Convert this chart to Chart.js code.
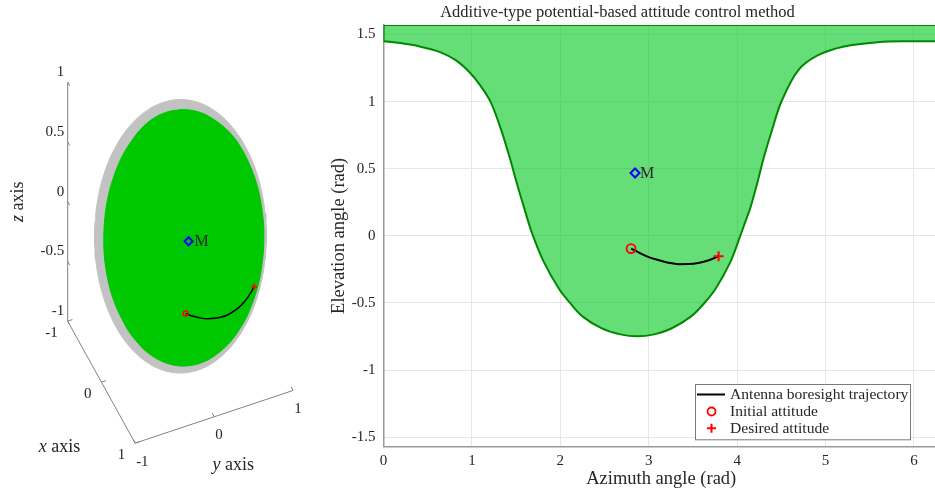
<!DOCTYPE html>
<html><head><meta charset="utf-8">
<script src="https://cdn.jsdelivr.net/npm/chart.js@4.4.1/dist/chart.umd.min.js"></script>
<style>
html,body{margin:0;padding:0;background:#fff;overflow:hidden;}
body{width:935px;height:495px;position:relative;}
#c1{position:absolute;left:0;top:0;}
#c2{position:absolute;left:330px;top:0;}
</style></head><body>
<canvas id="c1" width="330" height="495"></canvas>
<canvas id="c2" width="616" height="495"></canvas>
<script>
// ---------------- data ----------------
const chartTitle = 'Additive-type potential-based attitude control method';
const xAxisTitle = 'Azimuth angle (rad)';
const yAxisTitle = 'Elevation angle (rad)';
const xTickValues = [0, 1, 2, 3, 4, 5, 6];
const yTickValues = [-1.5, -1, -0.5, 0, 0.5, 1, 1.5];

// boundary of the admissible region (elevation vs azimuth)
const boundaryAz = [0, 0.19, 0.41, 0.64, 0.82, 0.97, 1.09, 1.21, 1.32, 1.42, 1.50, 1.59, 1.68, 1.81, 1.99, 2.11, 2.25, 2.47, 2.68, 2.87, 3.06, 3.25, 3.48, 3.63, 3.76, 3.92, 4.03, 4.09, 4.15, 4.23, 4.30, 4.40, 4.50, 4.69, 4.91, 5.21, 5.59, 5.96, 6.2832];
const boundaryEl = [1.450, 1.436, 1.411, 1.369, 1.307, 1.221, 1.125, 1.000, 0.810, 0.600, 0.410, 0.210, 0.020, -0.190, -0.400, -0.500, -0.600, -0.690, -0.734, -0.748, -0.734, -0.692, -0.600, -0.500, -0.390, -0.200, -0.010, 0.100, 0.210, 0.400, 0.580, 0.800, 0.999, 1.233, 1.344, 1.411, 1.443, 1.450, 1.450];

// antenna boresight trajectory
const trajectoryAz = [2.80, 2.89, 3.00, 3.11, 3.22, 3.34, 3.45, 3.56, 3.68, 3.79];
const trajectoryEl = [-0.095, -0.125, -0.158, -0.181, -0.200, -0.211, -0.210, -0.202, -0.182, -0.152];

const initialAttitude = [2.80, -0.095];
const desiredAttitude = [3.79, -0.152];
const pointM = [2.845, 0.468];
const labelM = 'M';
const legendLabels = ['Antenna boresight trajectory', 'Initial attitude', 'Desired attitude'];

// 3-D panel ticks
const xy3dTicks = [-1, 0, 1];
const z3dTicks = [-1, -0.5, 0, 0.5, 1];
const axis3dNames = ['x', 'y', 'z'];

// ---------------- style ----------------
const FONT = '"Liberation Serif", "DejaVu Serif", serif';
const TEXT = '#262626';
Chart.defaults.font.family = FONT;
Chart.defaults.color = TEXT;
const HALF_PI = Math.PI / 2, TWO_PI = Math.PI * 2;
const FILL = 'rgba(0,200,30,0.6)', EDGE = '#008800';
const pts = (xs, ys) => xs.map((x, i) => ({x: x, y: ys[i]}));

// ---------------- right panel ----------------
const rightDecor = {
  id: 'rightDecor',
  afterDatasetsDraw(chart) {
    const ctx = chart.ctx, xs = chart.scales.x, ys = chart.scales.y;
    ctx.save();
    ctx.fillStyle = TEXT;
    ctx.font = '16px ' + FONT;
    ctx.textAlign = 'left'; ctx.textBaseline = 'middle';
    ctx.fillText(labelM, xs.getPixelForValue(pointM[0]) + 5, ys.getPixelForValue(pointM[1]) + 0.5);
    ctx.restore();
  },
  afterDraw(chart) {
    const ctx = chart.ctx, ca = chart.chartArea;
    ctx.save();
    ctx.fillStyle = TEXT;
    ctx.font = '16.5px ' + FONT;
    ctx.textAlign = 'center'; ctx.textBaseline = 'alphabetic';
    ctx.fillText(chartTitle, ca.left + 234, 17);
    const bx = ca.left + 311.5, by = ca.bottom - 62.7, bw = 215, bh = 55.3;
    ctx.fillStyle = '#fff';
    ctx.fillRect(bx, by, bw, bh);
    ctx.strokeStyle = '#7a7a7a'; ctx.lineWidth = 1;
    ctx.strokeRect(bx + 0.5, by + 0.5, bw, bh);
    const rows = [by + 10.5, by + 27.5, by + 44.3];
    const mx = bx + 16.5;
    ctx.strokeStyle = '#000'; ctx.lineWidth = 2;
    ctx.beginPath(); ctx.moveTo(bx + 2, rows[0]); ctx.lineTo(bx + 30, rows[0]); ctx.stroke();
    ctx.strokeStyle = '#f00'; ctx.lineWidth = 1.8;
    ctx.beginPath(); ctx.arc(mx, rows[1], 4, 0, TWO_PI); ctx.stroke();
    ctx.lineWidth = 2;
    ctx.beginPath(); ctx.moveTo(mx - 4.5, rows[2]); ctx.lineTo(mx + 4.5, rows[2]);
    ctx.moveTo(mx, rows[2] - 4.5); ctx.lineTo(mx, rows[2] + 4.5); ctx.stroke();
    ctx.fillStyle = TEXT;
    ctx.font = '15.6px ' + FONT;
    ctx.textAlign = 'left'; ctx.textBaseline = 'middle';
    legendLabels.forEach((t, i) => ctx.fillText(t, bx + 35, rows[i] + 0.5));
    ctx.restore();
  }
};

const lastAz = boundaryAz[boundaryAz.length - 1], lastEl = boundaryEl[boundaryEl.length - 1];
new Chart(document.getElementById('c2'), {
  type: 'scatter',
  data: {datasets: [
    {data: pts(boundaryAz, boundaryEl), showLine: true, fill: 'end', backgroundColor: FILL,
     borderColor: EDGE, borderWidth: 2, pointRadius: 0, tension: 0.35, order: 5},
    {data: [{x: boundaryAz[0], y: boundaryEl[0]}, {x: boundaryAz[0], y: HALF_PI}, {x: lastAz, y: HALF_PI}, {x: lastAz, y: lastEl}],
     showLine: true, fill: false, borderColor: EDGE, borderWidth: 2, pointRadius: 0, order: 4},
    {label: legendLabels[0], data: pts(trajectoryAz, trajectoryEl), showLine: true, borderColor: '#000',
     borderWidth: 2, pointRadius: 0, cubicInterpolationMode: 'monotone', order: 3},
    {label: legendLabels[1], data: [{x: initialAttitude[0], y: initialAttitude[1]}], pointStyle: 'circle',
     pointRadius: 4.5, borderWidth: 1.8, borderColor: '#f00', backgroundColor: 'rgba(0,0,0,0)', order: 1},
    {label: legendLabels[2], data: [{x: desiredAttitude[0], y: desiredAttitude[1]}], pointStyle: 'cross',
     pointRadius: 5, borderWidth: 2, borderColor: '#f00', order: 1},
    {label: labelM, data: [{x: pointM[0], y: pointM[1]}], pointStyle: 'rectRot', pointRadius: 4.5,
     borderWidth: 2, borderColor: '#0000ff', backgroundColor: 'rgba(0,0,0,0)', order: 1}
  ]},
  options: {
    responsive: false, animation: false, devicePixelRatio: 1,
    layout: {padding: {top: 25, right: 4, left: 0, bottom: 0}},
    plugins: {legend: {display: false}, tooltip: {enabled: false}, title: {display: false}},
    scales: {
      x: {type: 'linear', min: 0, max: TWO_PI,
        afterBuildTicks: s => { s.ticks = xTickValues.map(v => ({value: v})); },
        afterFit: s => { s.height = 48.3; },
        grid: {color: '#e6e6e6', drawTicks: false}, border: {color: '#9a9a9a', width: 1.5},
        ticks: {font: {size: 15}, padding: 5, maxRotation: 0, autoSkip: false, callback: v => String(v)},
        title: {display: true, text: xAxisTitle, font: {size: 18.5, lineHeight: 1.2}, padding: {top: 0, bottom: 4.5}}},
      y: {type: 'linear', min: -HALF_PI, max: HALF_PI,
        afterBuildTicks: s => { s.ticks = yTickValues.map(v => ({value: v})); },
        afterFit: s => { s.width = 53.5; },
        grid: {color: '#e6e6e6', drawTicks: false}, border: {color: '#9a9a9a', width: 1.5},
        ticks: {font: {size: 15}, padding: 8, autoSkip: false, callback: v => String(v)},
        title: {display: true, text: yAxisTitle, font: {size: 18.5, lineHeight: 1}, padding: {top: 0, bottom: 0}}}
    }
  },
  plugins: [rightDecor]
});

// ---------------- left panel (3-D view, orthographic camera) ----------------
const view3d = {origin: [181, 236], ex: [35, 62.5], ey: [82, -27], ez: [0, -122.5]};
function project(p) {
  return {x: view3d.origin[0] + p[0] * view3d.ex[0] + p[1] * view3d.ey[0] + p[2] * view3d.ez[0],
          y: view3d.origin[1] + p[0] * view3d.ex[1] + p[1] * view3d.ey[1] + p[2] * view3d.ez[1]};
}
function onSphere(az, el) {
  return [-Math.cos(el) * Math.cos(az), -Math.cos(el) * Math.sin(az), Math.sin(el)];
}
function sphereOutline() {
  const e = [view3d.ex, view3d.ey, view3d.ez];
  let a = 0, b = 0, c = 0;
  e.forEach(v => { a += v[0] * v[0]; b += v[0] * v[1]; c += v[1] * v[1]; });
  const out = [];
  for (let k = 0; k <= 180; k++) {
    const t = k / 180 * TWO_PI, w1 = Math.cos(t), w2 = Math.sin(t);
    const v1 = a * w1 + b * w2, v2 = b * w1 + c * w2;
    const s = Math.sqrt(w1 * v1 + w2 * v2);
    out.push({x: view3d.origin[0] + v1 / s, y: view3d.origin[1] + v2 / s});
  }
  return out;
}
const capOutline = boundaryAz.map((az, i) => project(onSphere(az, boundaryEl[i])));
capOutline.push(capOutline[0]);
const traj3d = trajectoryAz.map((az, i) => project(onSphere(az, trajectoryEl[i])));

const lo = xy3dTicks[0], hi = xy3dTicks[xy3dTicks.length - 1];
const zlo = z3dTicks[0], zhi = z3dTicks[z3dTicks.length - 1];
const AX = '#808080';
const seg = (p, q) => ({data: [project(p), project(q)], showLine: true, borderColor: AX, borderWidth: 1, pointRadius: 0, order: 9});
const axisSets = [
  seg([lo, lo, zlo], [lo, lo, zhi]),
  seg([lo, lo, zlo], [hi, lo, zlo]),
  seg([hi, lo, zlo], [hi, hi, zlo])
];
const TL = 0.06;
z3dTicks.forEach(v => axisSets.push(seg([lo, lo, v], [lo + TL, lo, v])));
xy3dTicks.forEach(v => axisSets.push(seg([v, lo, zlo], [v, lo + TL, zlo])));
xy3dTicks.forEach(v => axisSets.push(seg([hi, v, zlo], [hi - TL, v, zlo])));

const leftText = {
  id: 'leftText',
  afterDatasetsDraw(chart) {
    const ctx = chart.ctx, xs = chart.scales.x, ys = chart.scales.y;
    const P = p => { const q = project(p); return [xs.getPixelForValue(q.x), ys.getPixelForValue(q.y)]; };
    ctx.save();
    ctx.fillStyle = TEXT;
    ctx.font = '15px ' + FONT;
    ctx.textBaseline = 'middle';
    ctx.textAlign = 'right';
    z3dTicks.forEach(v => { const [x, y] = P([lo, lo, v]); ctx.fillText(String(v), x - 3.5, y - 10); });
    xy3dTicks.forEach(v => { const [x, y] = P([v, lo, zlo]); ctx.fillText(String(v), x - 10, y + 11.5); });
    ctx.textAlign = 'left';
    xy3dTicks.forEach(v => { const [x, y] = P([hi, v, zlo]); ctx.fillText(String(v), x + 1, y + 18.5); });
    ctx.font = '16px ' + FONT;
    const [mx, my] = P(onSphere(pointM[0], pointM[1]));
    ctx.fillText(labelM, mx + 6, my + 0.5);
    const title = (name, cx, cy, rot) => {
      ctx.save(); ctx.translate(cx, cy); ctx.rotate(rot);
      ctx.font = 'italic 18px ' + FONT; const w1 = ctx.measureText(name).width;
      ctx.font = '18px ' + FONT; const w2 = ctx.measureText(' axis').width;
      const x0 = -(w1 + w2) / 2;
      ctx.textAlign = 'left';
      ctx.font = 'italic 18px ' + FONT; ctx.fillText(name, x0, 0);
      ctx.font = '18px ' + FONT; ctx.fillText(' axis', x0 + w1, 0);
      ctx.restore();
    };
    let q = P([0, lo, zlo]); title(axis3dNames[0], q[0] - 42, q[1] + 65.5, 0);
    q = P([hi, 0, zlo]); title(axis3dNames[1], q[0] + 19, q[1] + 48.5, 0);
    q = P([lo, lo, 0]); title(axis3dNames[2], q[0] - 49, q[1], -HALF_PI);
    ctx.restore();
  }
};

new Chart(document.getElementById('c1'), {
  type: 'scatter',
  data: {datasets: [
    {data: sphereOutline(), showLine: true, fill: 'shape', backgroundColor: '#c2c2c2', borderColor: '#c2c2c2', borderWidth: 1, pointRadius: 0, order: 8},
    {data: capOutline, showLine: true, fill: 'shape', backgroundColor: '#00c800', borderColor: '#00c800', borderWidth: 1, pointRadius: 0, tension: 0.35, order: 7},
    {data: traj3d, showLine: true, borderColor: '#000', borderWidth: 1.5, pointRadius: 0, tension: 0.3, order: 3},
    {data: [project(onSphere(initialAttitude[0], initialAttitude[1]))], pointStyle: 'circle', pointRadius: 2.5, borderWidth: 1.5, borderColor: '#f00', backgroundColor: 'rgba(0,0,0,0)', order: 1},
    {data: [project(onSphere(desiredAttitude[0], desiredAttitude[1]))], pointStyle: 'cross', pointRadius: 3, borderWidth: 1.5, borderColor: '#f00', order: 1},
    {data: [project(onSphere(pointM[0], pointM[1]))], pointStyle: 'rectRot', pointRadius: 4, borderWidth: 2, borderColor: '#0000ff', backgroundColor: 'rgba(0,0,0,0)', order: 1}
  ].concat(axisSets)},
  options: {
    responsive: false, animation: false, devicePixelRatio: 1,
    layout: {padding: 0},
    plugins: {legend: {display: false}, tooltip: {enabled: false}},
    scales: {
      x: {type: 'linear', min: 0, max: 330, display: false},
      y: {type: 'linear', min: 0, max: 495, reverse: true, display: false}
    }
  },
  plugins: [leftText]
});
</script>
</body></html>
